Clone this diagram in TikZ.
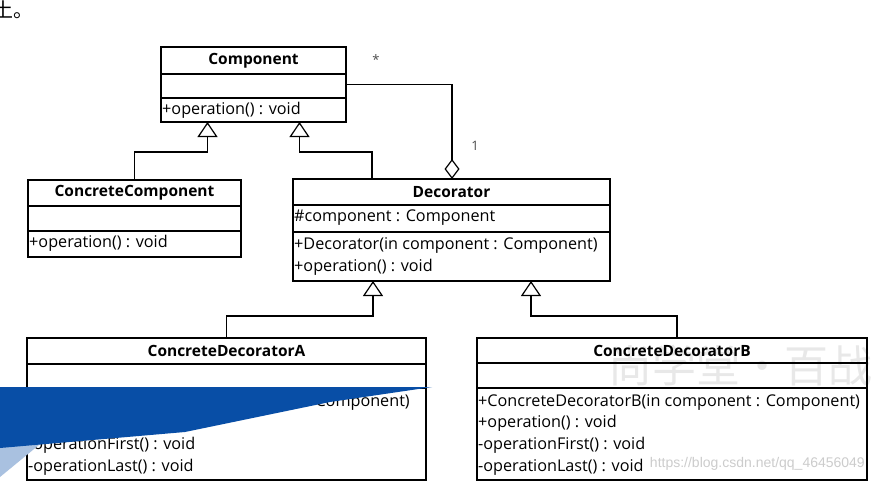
\documentclass[tikz,border=0pt]{standalone}
\usepackage{fontspec}
\setmainfont{Open Sans}
\newfontfamily\cjk{Noto Sans CJK SC}
\newfontfamily\urlfont{Liberation Sans}
\usetikzlibrary{arrows.meta}
\definecolor{wedgeblue}{RGB}{8,78,166}
\begin{document}
\begin{tikzpicture}[x=1pt,y=-1pt,
  box/.style={draw, line width=1.2pt, inner sep=0pt, outer sep=0pt, anchor=north west},
  sep/.style={line width=1.2pt},
  hdr/.style={font=\fontsize{15.5}{17}\selectfont\bfseries, inner sep=0pt},
  txt/.style={font=\fontsize{16.2}{18}\selectfont, inner sep=0pt, anchor=west},
  conn/.style={line width=1.2pt},
  inh/.style={conn, -{Triangle[open,length=15pt,width=20pt]}},
  agg/.style={conn, -{Diamond[open,length=20pt,width=15pt]}},
  mult/.style={font=\fontsize{13}{13}\selectfont, text=black!70, inner sep=0pt}]
\useasboundingbox (0,0) rectangle (873,482);
\fill[white] (0,0) rectangle (873,482);

\node[font=\cjk\fontsize{20}{20}\selectfont, anchor=base west, inner sep=0pt] (topcut) at (-7,17) {土。};

% watermarks
\node[font=\urlfont\fontsize{14}{16}\selectfont, text=gray!40, anchor=east, inner sep=0pt] (wm) at (865,464) {https://blog.csdn.net/qq\_46456049};
\node[font=\cjk\fontsize{44}{44}\selectfont, text=gray!18, anchor=west, inner sep=0pt] (logo) at (608,366) {尚学堂·百战};

% Component
\node[box, minimum width=185pt, minimum height=75pt] (comp) at (161,47) {};
\draw[sep] (161,74) -- (346,74);
\draw[sep] (161,98) -- (346,98);
\node[hdr] (compn) at (253.5,61) {Component};
\node[txt] (compo) at (162,110) {+operation() : void};

% ConcreteComponent
\node[box, minimum width=213pt, minimum height=77pt] (cc) at (28,180) {};
\draw[sep] (28,206) -- (241,206);
\draw[sep] (28,231) -- (241,231);
\node[hdr] (ccn) at (134.5,193) {ConcreteComponent};
\node[txt] (cco) at (29,243) {+operation() : void};

% Decorator
\node[box, minimum width=317pt, minimum height=102pt] (dec) at (293,179) {};
\draw[sep] (293,205) -- (610,205);
\draw[sep] (293,232) -- (610,232);
\node[hdr] (decn) at (451.5,192) {Decorator};
\node[txt] (deca) at (294,218) {\#component : Component};
\node[txt] (decc) at (294,245) {+Decorator(in component : Component)};
\node[txt] (deco) at (294,267) {+operation() : void};

% ConcreteDecoratorA
\node[box, minimum width=399pt, minimum height=142pt] (cda) at (27,338) {};
\draw[sep] (27,364) -- (426,364);
\draw[sep] (27,388) -- (426,388);
\node[hdr] (cdan) at (226.5,351) {ConcreteDecoratorA};
\node[txt] (cdac) at (28,402) {+ConcreteDecoratorA(in component : Component)};
\node[txt] (cdao) at (28,423) {+operation() : void};
\node[txt] (cdaf) at (28,445) {-operationFirst() : void};
\node[txt] (cdal) at (28,467) {-operationLast() : void};

% ConcreteDecoratorB
\node[box, minimum width=390pt, minimum height=142pt] (cdb) at (477,338) {};
\draw[sep] (477,363) -- (867,363);
\draw[sep] (477,388) -- (867,388);
\node[hdr] (cdbn) at (672,351) {ConcreteDecoratorB};
\node[txt] (cdbc) at (478,402) {+ConcreteDecoratorB(in component : Component)};
\node[txt] (cdbo) at (478,423) {+operation() : void};
\node[txt] (cdbf) at (478,445) {-operationFirst() : void};
\node[txt] (cdbl) at (478,467) {-operationLast() : void};

% connectors
\coordinate (t1) at (207.5,122);
\coordinate (t2) at (299.5,122);
\coordinate (t3) at (373,281);
\coordinate (t4) at (531,281);
\coordinate (dm) at (452,179);
\coordinate (dtop) at (372,179);
\coordinate (cdbtop) at (677,338);

\draw[inh] (cc.north) -- ++(0,-28) -| (t1);
\draw[inh] (dtop) -- ++(0,-27) -| (t2);
\draw[agg] (comp.east) -| (dm);
\draw[inh] (cda.north) -- ++(0,-22) -| (t3);
\draw[inh] (cdbtop) -- ++(0,-22) -| (t4);

\node[mult] (star) at (376,60) {*};
\node[mult] (one) at (475,146) {1};

% blue wedge overlay
\fill[wedgeblue!35] (0,446) -- (45,440) -- (0,477) -- cycle;
\fill[wedgeblue] (0,387) -- (432,387) -- (330,402) -- (185,432) -- (0,448) -- cycle;
\end{tikzpicture}
\end{document}
